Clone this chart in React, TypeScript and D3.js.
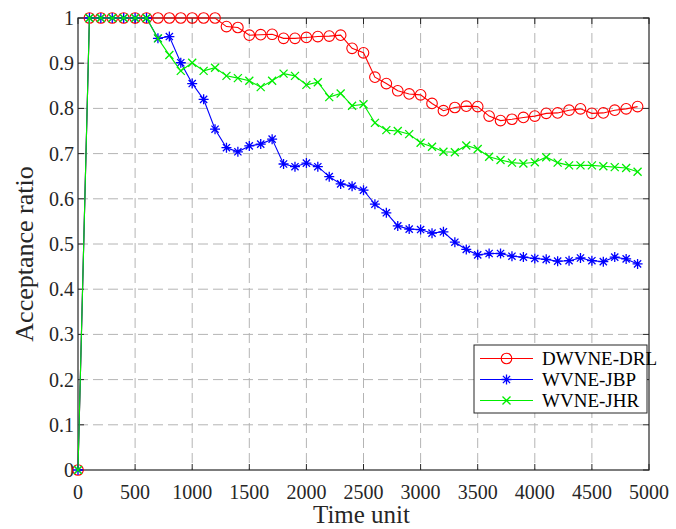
import React, { useRef, useEffect } from 'react';
import * as d3 from 'd3';

const WIDTH = 676;
const HEIGHT = 529;
const MARGIN = { top: 18, right: 27, bottom: 59, left: 78 };

const timeUnits = [
  0, 100, 200, 300, 400, 500, 600, 700, 800, 900,
  1000, 1100, 1200, 1300, 1400, 1500, 1600, 1700, 1800, 1900,
  2000, 2100, 2200, 2300, 2400, 2500, 2600, 2700, 2800, 2900,
  3000, 3100, 3200, 3300, 3400, 3500, 3600, 3700, 3800, 3900,
  4000, 4100, 4200, 4300, 4400, 4500, 4600, 4700, 4800, 4900,
];

const dwvneDrl = [
  0, 1, 1, 1, 1, 1, 1, 1, 1, 1,
  1, 1, 1, 0.981, 0.979, 0.962, 0.963, 0.964, 0.955, 0.955,
  0.957, 0.959, 0.96, 0.962, 0.933, 0.923, 0.869, 0.855, 0.839, 0.832,
  0.83, 0.811, 0.795, 0.802, 0.805, 0.804, 0.783, 0.773, 0.776, 0.78,
  0.783, 0.789, 0.79, 0.796, 0.799, 0.789, 0.79, 0.796, 0.799, 0.804,
];

const wvneJbp = [
  0, 1, 1, 1, 1, 1, 1, 0.955, 0.959, 0.901,
  0.855, 0.82, 0.754, 0.713, 0.704, 0.717, 0.721, 0.732, 0.677, 0.671,
  0.679, 0.671, 0.649, 0.633, 0.628, 0.619, 0.588, 0.569, 0.54, 0.533,
  0.532, 0.524, 0.527, 0.504, 0.488, 0.476, 0.479, 0.479, 0.473, 0.471,
  0.468, 0.466, 0.462, 0.463, 0.469, 0.463, 0.461, 0.471, 0.467, 0.456,
];

const wvneJhr = [
  0, 1, 1, 1, 1, 1, 1, 0.955, 0.918, 0.883,
  0.901, 0.883, 0.89, 0.872, 0.867, 0.861, 0.847, 0.861, 0.877, 0.872,
  0.852, 0.858, 0.825, 0.833, 0.806, 0.809, 0.768, 0.752, 0.75, 0.743,
  0.724, 0.715, 0.704, 0.703, 0.718, 0.71, 0.693, 0.686, 0.68, 0.678,
  0.681, 0.692, 0.68, 0.674, 0.674, 0.674, 0.672, 0.67, 0.668, 0.66,
];

const xTicks = [0, 500, 1000, 1500, 2000, 2500, 3000, 3500, 4000, 4500, 5000];
const yTicks = [0, 0.1, 0.2, 0.3, 0.4, 0.5, 0.6, 0.7, 0.8, 0.9, 1];

const SERIES = [
  { name: 'DWVNE-DRL', values: dwvneDrl, color: '#ff0000', marker: 'circle' },
  { name: 'WVNE-JBP', values: wvneJbp, color: '#0000ff', marker: 'star' },
  { name: 'WVNE-JHR', values: wvneJhr, color: '#00ee00', marker: 'cross' },
];

const FONT = 'Liberation Serif';

function markerPath(type: string) {
  if (type === 'star') {
    const s = 5, d = 3.6;
    return `M${-s},0L${s},0M0,${-s}L0,${s}M${-d},${-d}L${d},${d}M${-d},${d}L${d},${-d}`;
  }
  const c = 4;
  return `M${-c},${-c}L${c},${c}M${-c},${c}L${c},${-c}`;
}

export default function App() {
  const svgRef = useRef<SVGSVGElement>(null);

  useEffect(() => {
    if (!svgRef.current) return;
    const innerW = WIDTH - MARGIN.left - MARGIN.right;
    const innerH = HEIGHT - MARGIN.top - MARGIN.bottom;

    const x = d3.scaleLinear().domain([0, 5000]).range([0, innerW]);
    const y = d3.scaleLinear().domain([0, 1]).range([innerH, 0]);

    const svg = d3.select(svgRef.current);
    svg.selectAll('*').remove();
    svg.append('rect').attr('width', WIDTH).attr('height', HEIGHT).attr('fill', 'white');
    const g = svg.append('g').attr('transform', `translate(${MARGIN.left},${MARGIN.top})`);

    // Grid
    g.append('g').selectAll('line')
      .data(yTicks.slice(1, -1))
      .join('line')
      .attr('x1', 0).attr('x2', innerW)
      .attr('y1', d => y(d)).attr('y2', d => y(d))
      .attr('stroke', '#b4b4b4').attr('stroke-dasharray', '10,5');
    g.append('g').selectAll('line')
      .data(xTicks.slice(1, -1))
      .join('line')
      .attr('y1', 0).attr('y2', innerH)
      .attr('x1', d => x(d)).attr('x2', d => x(d))
      .attr('stroke', '#b4b4b4').attr('stroke-dasharray', '10,5');

    // Box and inward ticks
    const axisColor = '#262626';
    g.append('rect')
      .attr('width', innerW).attr('height', innerH)
      .attr('fill', 'none').attr('stroke', axisColor).attr('stroke-width', 1.2);
    const tl = 6;
    const tickG = g.append('g').attr('stroke', axisColor);
    xTicks.forEach(t => {
      tickG.append('line').attr('x1', x(t)).attr('x2', x(t)).attr('y1', innerH).attr('y2', innerH - tl);
      tickG.append('line').attr('x1', x(t)).attr('x2', x(t)).attr('y1', 0).attr('y2', tl);
    });
    yTicks.forEach(t => {
      tickG.append('line').attr('x1', 0).attr('x2', tl).attr('y1', y(t)).attr('y2', y(t));
      tickG.append('line').attr('x1', innerW).attr('x2', innerW - tl).attr('y1', y(t)).attr('y2', y(t));
    });

    // Tick labels
    g.append('g').selectAll('text')
      .data(xTicks)
      .join('text')
      .attr('x', d => x(d)).attr('y', innerH + 29)
      .attr('text-anchor', 'middle')
      .style('font-family', FONT).attr('font-size', 20).attr('fill', axisColor)
      .text(d => String(d));
    g.append('g').selectAll('text')
      .data(yTicks)
      .join('text')
      .attr('x', -4).attr('y', d => y(d) + 7)
      .attr('text-anchor', 'end')
      .style('font-family', FONT).attr('font-size', 20).attr('fill', axisColor)
      .text(d => d3.format('~g')(d));

    // Axis titles
    g.append('text')
      .attr('x', innerW / 2 - 2).attr('y', innerH + 53)
      .attr('text-anchor', 'middle')
      .style('font-family', FONT).attr('font-size', 25).attr('fill', axisColor)
      .text('Time unit');
    g.append('text')
      .attr('transform', 'rotate(-90)')
      .attr('x', -(254 - MARGIN.top)).attr('y', -45)
      .attr('text-anchor', 'middle')
      .style('font-family', FONT).attr('font-size', 26).attr('fill', axisColor)
      .text('Acceptance ratio');

    // Lines and markers
    const line = d3.line<number>()
      .x((_, i) => x(timeUnits[i]))
      .y(d => y(d));

    SERIES.forEach(s => {
      const sg = g.append('g');
      sg.append('path')
        .datum(s.values)
        .attr('d', line)
        .attr('fill', 'none')
        .attr('stroke', s.color)
        .attr('stroke-width', 1.1);
      if (s.marker === 'circle') {
        sg.selectAll('circle')
          .data(s.values)
          .join('circle')
          .attr('cx', (_, i) => x(timeUnits[i])).attr('cy', d => y(d))
          .attr('r', 5.3)
          .attr('fill', 'none').attr('stroke', s.color).attr('stroke-width', 1.1);
      } else {
        sg.selectAll('path.m')
          .data(s.values)
          .join('path')
          .attr('class', 'm')
          .attr('transform', (d, i) => `translate(${x(timeUnits[i])},${y(d)})`)
          .attr('d', markerPath(s.marker))
          .attr('fill', 'none').attr('stroke', s.color).attr('stroke-width', 1.3);
      }
    });

    // Legend
    const lg = svg.append('g').attr('transform', 'translate(474,345)');
    lg.append('rect')
      .attr('width', 173).attr('height', 68)
      .attr('fill', 'white').attr('stroke', axisColor).attr('stroke-width', 1);
    SERIES.forEach((s, i) => {
      const ly = 13.5 + i * 21;
      const row = lg.append('g').attr('transform', `translate(0,${ly})`);
      row.append('line')
        .attr('x1', 6).attr('x2', 59).attr('y1', 0).attr('y2', 0)
        .attr('stroke', s.color).attr('stroke-width', 1.1);
      if (s.marker === 'circle') {
        row.append('circle').attr('cx', 32.5).attr('cy', 0).attr('r', 5.3)
          .attr('fill', 'none').attr('stroke', s.color).attr('stroke-width', 1.1);
      } else {
        row.append('path').attr('transform', 'translate(32.5,0)')
          .attr('d', markerPath(s.marker))
          .attr('fill', 'none').attr('stroke', s.color).attr('stroke-width', 1.3);
      }
      row.append('text')
        .attr('x', 68).attr('y', 6.5)
        .style('font-family', FONT).attr('font-size', 19).attr('fill', '#000')
        .text(s.name);
    });
  }, []);

  return (
    <div>
      <style>{'body{margin:0}'}</style>
      <svg ref={svgRef} width={WIDTH} height={HEIGHT} style={{ display: 'block' }} />
    </div>
  );
}
